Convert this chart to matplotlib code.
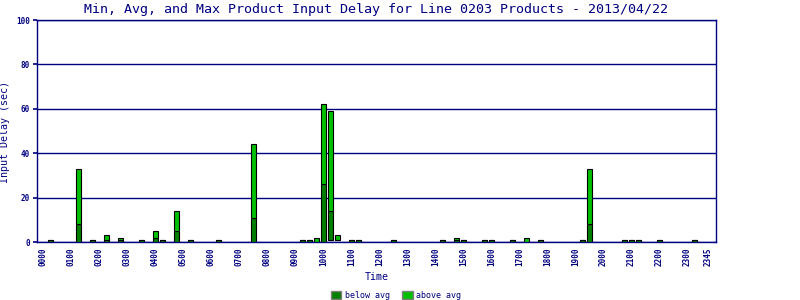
import matplotlib.pyplot as plt
from matplotlib.patches import Patch

# quarter-hour slots with min / avg / max input delay (sec)
times = ["0015", "0115", "0145", "0215", "0245", "0330", "0400", "0415", "0445",
         "0515", "0615", "0730", "0915", "0930", "0945", "1000", "1015", "1030",
         "1100", "1115", "1230", "1415", "1445", "1500", "1545", "1600", "1645",
         "1715", "1745", "1915", "1930", "2045", "2100", "2115", "2200", "2315"]
mins = [0, 0, 0, 0, 0, 0, 0, 0, 0,
        0, 0, 0, 0, 0, 0, 0, 1, 1,
        0, 0, 0, 0, 0, 0, 0, 0, 0,
        0, 0, 0, 0, 0, 0, 0, 0, 0]
avgs = [1, 8, 1, 1, 1, 1, 2, 1, 5,
        1, 1, 11, 1, 1, 0, 26, 14, 1,
        1, 1, 1, 1, 1, 1, 1, 1, 1,
        0, 1, 1, 8, 1, 1, 1, 1, 1]
maxs = [1, 33, 1, 3, 2, 1, 5, 1, 14,
        1, 1, 44, 1, 1, 2, 62, 59, 3,
        1, 1, 1, 1, 2, 1, 1, 1, 1,
        2, 1, 1, 33, 1, 1, 1, 1, 1]

tick_labels = ["%02d00" % h for h in range(24)] + ["2345"]
yticks = [0, 20, 40, 60, 80, 100]

navy = "#000080"
dark = "#008000"
light = "#00c000"
mono = "DejaVu Sans Mono"

slots = [int(t[:2]) * 4 + int(t[2:]) // 15 for t in times]
tick_pos = [h * 4 for h in range(24)] + [95]

fig = plt.figure(figsize=(8, 3), dpi=100)
ax = fig.add_axes([0.046, 0.193, 0.849, 0.74])

below = [a - m for a, m in zip(avgs, mins)]
above = [x - a for x, a in zip(maxs, avgs)]
ax.bar(slots, below, bottom=mins, width=0.75, color=dark,
       edgecolor="black", linewidth=0.8, zorder=3)
ax.bar(slots, above, bottom=avgs, width=0.75, color=light,
       edgecolor="black", linewidth=0.8, zorder=3)

ax.set_xlim(-0.95, 96.1)
ax.set_ylim(0, 100)
ax.set_yticks(yticks)
ax.set_yticklabels([str(v) for v in yticks], fontsize=5.5, family=mono,
                   fontweight="bold", color=navy)
ax.set_xticks(tick_pos)
ax.set_xticklabels(tick_labels, rotation=90, fontsize=5.5, family=mono,
                   fontweight="bold", color=navy)
ax.tick_params(axis="y", length=3, width=1.2, color=navy, pad=2)
ax.tick_params(axis="x", length=0, pad=4)
ax.grid(axis="y", color=navy, linewidth=1.0, zorder=1)
for s in ax.spines.values():
    s.set_color(navy)
    s.set_linewidth(1.0)

ax.set_title("Min, Avg, and Max Product Input Delay for Line 0203 Products - 2013/04/22",
             fontsize=9.6, family=mono, color=navy, pad=5)
ax.set_xlabel("Time", fontsize=7.2, family=mono, color=navy, labelpad=4)
ax.set_ylabel("Input Delay (sec)", fontsize=7.2, family=mono, color=navy)
ax.yaxis.set_label_coords(-0.04, 0.495)

handles = [Patch(facecolor=dark, edgecolor="gray", label="below avg"),
           Patch(facecolor=light, edgecolor="gray", label="above avg")]
fig.legend(handles=handles, loc="lower center", bbox_to_anchor=(0.495, -0.025),
           ncol=2, frameon=False, prop={"family": mono, "size": 6},
           handlelength=1.3, handleheight=1.0, handletextpad=0.4,
           columnspacing=1.5, labelcolor=navy)

fig.savefig("out.png", dpi=100)
